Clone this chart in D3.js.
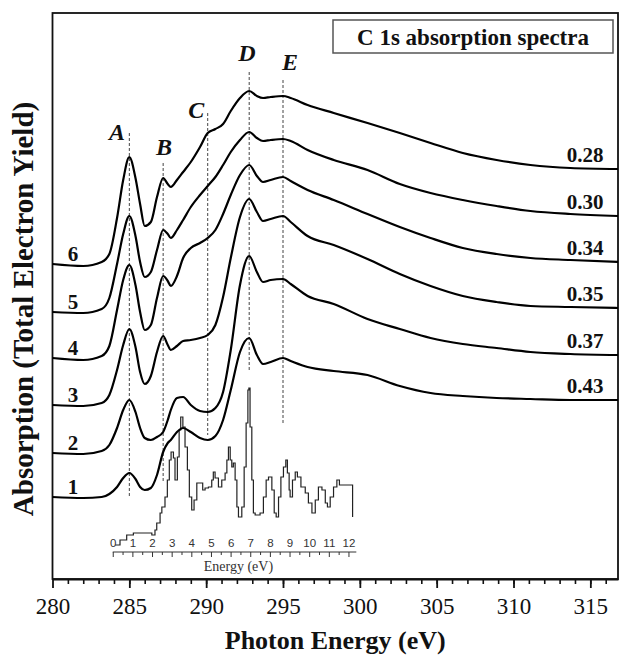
<!DOCTYPE html>
<html>
<head>
<meta charset="utf-8">
<script src="https://cdn.jsdelivr.net/npm/d3@7"></script>
<style>
    body { margin: 0; background: #ffffff; }
</style>
</head>
<body>
<div id="c1"></div>
<script>
// energy grid (eV) shared by the six spectra
const energy = [280, 282, 283.2, 283.7, 284.2, 284.6, 285.0, 285.4, 285.7, 286.0,
    286.4, 286.8, 287.2, 287.5, 287.7, 288.1, 288.5, 289.0, 289.6, 290.1,
    290.6, 291.1, 291.6, 292.2, 292.8, 293.3, 293.7, 294.2, 295.0, 295.5,
    296.6, 298.3, 300.5, 302.6, 304.6, 306.7, 308.9, 311.1, 313.7, 316.8];

// absorption (a.u., already offset), bottom curve first
const spec1 = [0.82, 0.81, 0.82, 0.85, 0.92, 1.01, 1.06, 1.00, 0.92, 0.89, 0.91, 1.04, 1.27, 1.36, 1.39, 1.47, 1.51, 1.47, 1.41, 1.39,
    1.43, 1.59, 1.89, 2.27, 2.41, 2.24, 2.15, 2.17, 2.21, 2.18, 2.12, 2.08, 2.04, 1.93, 1.86, 1.83, 1.81, 1.80, 1.79, 1.79];
const spec2 = [1.26, 1.25, 1.28, 1.34, 1.51, 1.69, 1.79, 1.67, 1.51, 1.41, 1.39, 1.42, 1.47, 1.59, 1.69, 1.81, 1.82, 1.74, 1.68, 1.67,
    1.71, 1.87, 2.29, 2.94, 3.23, 3.07, 2.97, 2.99, 3.00, 2.95, 2.83, 2.75, 2.60, 2.50, 2.41, 2.35, 2.31, 2.27, 2.25, 2.24];
const spec3 = [1.74, 1.73, 1.76, 1.84, 2.09, 2.34, 2.50, 2.32, 2.07, 1.95, 2.03, 2.27, 2.43, 2.34, 2.29, 2.33, 2.38, 2.39, 2.41, 2.44,
    2.54, 2.82, 3.21, 3.62, 3.80, 3.67, 3.58, 3.60, 3.63, 3.57, 3.43, 3.34, 3.20, 3.05, 2.93, 2.83, 2.77, 2.73, 2.72, 2.71];
const spec4 = [2.21, 2.19, 2.23, 2.33, 2.69, 2.99, 3.14, 2.94, 2.67, 2.49, 2.54, 2.81, 3.03, 2.98, 2.93, 3.03, 3.21, 3.31, 3.36, 3.41,
    3.49, 3.65, 3.84, 4.04, 4.14, 4.03, 3.97, 3.99, 4.02, 3.98, 3.89, 3.79, 3.65, 3.52, 3.41, 3.31, 3.25, 3.21, 3.19, 3.17];
const spec5 = [2.67, 2.66, 2.70, 2.81, 3.15, 3.45, 3.63, 3.43, 3.17, 3.02, 3.07, 3.29, 3.49, 3.45, 3.41, 3.49, 3.59, 3.72, 3.84, 3.93,
    4.02, 4.14, 4.27, 4.39, 4.47, 4.41, 4.38, 4.39, 4.40, 4.38, 4.29, 4.19, 4.09, 3.95, 3.86, 3.79, 3.73, 3.68, 3.65, 3.63];
const spec6 = [3.15, 3.13, 3.17, 3.25, 3.61, 3.99, 4.22, 4.01, 3.75, 3.53, 3.57, 3.82, 4.01, 3.95, 3.92, 3.99, 4.07, 4.17, 4.32, 4.46,
    4.50, 4.55, 4.68, 4.81, 4.88, 4.83, 4.81, 4.82, 4.83, 4.81, 4.74, 4.66, 4.56, 4.46, 4.36, 4.26, 4.19, 4.14, 4.11, 4.10];

const spectra = [spec1, spec2, spec3, spec4, spec5, spec6];
const sampleNames = ["1", "2", "3", "4", "5", "6"];
const sampleValues = ["0.43", "0.37", "0.35", "0.34", "0.30", "0.28"];

// resonance markers
const peakNames = ["A", "B", "C", "D", "E"];
const peakEnergy = [285.0, 287.2, 290.1, 292.8, 295.0];
const peakTop = [4.46, 4.16, 4.66, 5.07, 4.99];
const peakBottom = [0.82, 0.96, 1.44, 2.09, 1.54];
const peakLabelE = [284.2, 287.25, 289.35, 292.65, 295.45];
const peakLabelY = [4.39, 4.24, 4.61, 5.18, 5.09];

// calculated DOS for the inset (energy in eV, arbitrary units)
const dosEnergy = [0.12, 0.37, 0.71, 1.05, 1.56, 1.99, 2.15, 2.24, 2.41, 2.50, 2.66, 2.78, 2.88, 2.97, 3.09, 3.17, 3.29, 3.38, 3.46, 3.57,
    3.68, 3.80, 3.90, 4.02, 4.14, 4.28, 4.45, 4.58, 4.70, 4.87, 5.04, 5.12, 5.21, 5.38, 5.55, 5.72, 5.81, 5.89, 5.98, 6.06,
    6.14, 6.23, 6.32, 6.40, 6.57, 6.69, 6.79, 6.88, 6.93, 6.99, 7.08, 7.16, 7.25, 7.50, 7.67, 7.81, 7.93, 8.10, 8.22, 8.32,
    8.44, 8.56, 8.69, 8.81, 8.89, 8.98, 9.03, 9.15, 9.29, 9.40, 9.58, 9.80, 9.96, 10.14, 10.31, 10.47, 10.65, 10.82, 10.93, 11.07,
    11.24, 11.41, 11.54, 11.75, 12.09, 12.21];
const dosValue = [0.7, 1.2, 1.7, 1.9, 1.9, 1.7, 2.2, 2.9, 3.9, 4.5, 5.5, 7.2, 9.2, 10.0, 9.4, 7.2, 9.5, 12.2, 13.5, 12.5,
    10.5, 8.2, 5.5, 4.2, 5.2, 6.9, 6.9, 6.2, 6.4, 6.5, 7.2, 8.0, 7.4, 6.5, 7.2, 7.9, 9.2, 10.5, 9.2, 8.5,
    8.9, 7.2, 4.5, 3.5, 4.5, 8.5, 12.9, 16.2, 16.4, 12.5, 7.2, 3.9, 3.7, 3.9, 5.5, 7.2, 7.5, 6.2, 3.9, 3.5,
    5.5, 7.5, 8.5, 9.2, 7.9, 6.2, 5.5, 7.2, 8.0, 7.5, 6.5, 5.9, 4.9, 3.9, 5.2, 6.5, 6.2, 4.9, 4.5, 5.5,
    6.5, 7.2, 6.7, 6.7, 6.7, 3.5];

const xMajorTicks = [280, 285, 290, 295, 300, 305, 310, 315];
const insetTicks = [0, 1, 2, 3, 4, 5, 6, 7, 8, 9, 10, 11, 12];

function c1() {
    const margin = {l: 52.5, r: 1, t: 13, b: 81};
    const overall_width = 619;
    const overall_height = 660;
    const width = overall_width - margin.l - margin.r;
    const height = overall_height - margin.t - margin.b;
    const serif = "'Liberation Serif', 'Times New Roman', serif";

    let outerSvg = d3.select("#c1")
        .append("svg")
        .attr("width", overall_width)
        .attr("height", overall_height);
    outerSvg.append("rect")
        .attr("width", "100%")
        .attr("height", "100%")
        .attr("fill", "#ffffff");
    let svg = outerSvg.append("g")
        .attr("transform", `translate(${margin.l}, ${margin.t})`);

    let x = d3.scaleLinear().domain([280, 316.8]).range([0, width]);
    let y = d3.scaleLinear().domain([0, 5.66]).range([height, 0]);

    //frame
    svg.append("rect")
        .attr("width", width)
        .attr("height", height)
        .attr("fill", "none")
        .attr("stroke", "#111")
        .attr("stroke-width", 1.8);

    //minor and major ticks
    svg.append("g")
        .attr("transform", `translate(0,${height})`)
        .call(d3.axisBottom(x).tickValues(d3.range(281, 317, 1)).tickSize(5).tickFormat(""))
        .call(g => g.select(".domain").remove())
        .selectAll("line").attr("stroke", "#111").attr("stroke-width", 1.6);
    let xAxis = svg.append("g")
        .attr("transform", `translate(0,${height})`)
        .call(d3.axisBottom(x).tickValues(xMajorTicks).tickSize(9).tickSizeOuter(0).tickPadding(10));
    xAxis.select(".domain").attr("stroke", "#111").attr("stroke-width", 2);
    xAxis.selectAll("line").attr("stroke", "#111").attr("stroke-width", 1.8);
    xAxis.selectAll("text")
        .attr("font-family", serif)
        .attr("font-size", 23)
        .attr("fill", "#111");

    outerSvg.append("text")
        .attr("x", margin.l + width / 2)
        .attr("y", 649)
        .attr("text-anchor", "middle")
        .attr("font-family", serif)
        .attr("font-weight", "bold")
        .attr("font-size", 26)
        .attr("fill", "#111")
        .text("Photon Energy (eV)");

    outerSvg.append("text")
        .attr("transform", "translate(33, 309) rotate(-90)")
        .attr("text-anchor", "middle")
        .attr("font-family", serif)
        .attr("font-weight", "bold")
        .attr("font-size", 29)
        .attr("fill", "#111")
        .text("Absorption (Total Electron Yield)");

    //title box
    let box = svg.append("g").attr("transform", `translate(${width - 285}, 7)`);
    box.append("rect")
        .attr("width", 280)
        .attr("height", 33)
        .attr("fill", "#fff")
        .attr("stroke", "#555")
        .attr("stroke-width", 1.5);
    box.append("text")
        .attr("x", 140)
        .attr("y", 25)
        .attr("text-anchor", "middle")
        .attr("font-family", serif)
        .attr("font-weight", "bold")
        .attr("font-size", 23)
        .attr("fill", "#111")
        .text("C 1s absorption spectra");

    //dashed markers
    svg.selectAll(".peak")
        .data(peakNames)
        .enter()
        .append("line")
        .attr("class", "peak")
        .attr("x1", (d, i) => x(peakEnergy[i]))
        .attr("x2", (d, i) => x(peakEnergy[i]))
        .attr("y1", (d, i) => y(peakTop[i]))
        .attr("y2", (d, i) => y(peakBottom[i]))
        .attr("stroke", "#444")
        .attr("stroke-width", 1)
        .attr("stroke-dasharray", "3,2");
    svg.selectAll(".peak-label")
        .data(peakNames)
        .enter()
        .append("text")
        .attr("class", "peak-label")
        .attr("x", (d, i) => x(peakLabelE[i]))
        .attr("y", (d, i) => y(peakLabelY[i]))
        .attr("text-anchor", "middle")
        .attr("font-family", serif)
        .attr("font-weight", "bold")
        .attr("font-style", "italic")
        .attr("font-size", 24)
        .attr("fill", "#111")
        .text(d => d);

    //inset DOS
    let xi = d3.scaleLinear().domain([0, 12]).range([x(283.92), x(299.26)]);
    let yi = d3.scaleLinear().domain([0, 17]).range([y(0.27), y(1.97)]);
    let inset = svg.append("g").attr("class", "inset");
    inset.append("path")
        .datum(dosEnergy)
        .attr("fill", "none")
        .attr("stroke", "#222")
        .attr("stroke-width", 1.2)
        .attr("d", d3.line()
            .x(d => xi(d))
            .y((d, i) => yi(dosValue[i]))
            .curve(d3.curveStepAfter));
    let insetAxis = inset.append("g")
        .attr("transform", `translate(0,${yi(0)})`);
    insetAxis.call(d3.axisBottom(xi).tickValues(d3.range(0.5, 12.5, 1)).tickSize(3).tickFormat("").tickSizeOuter(0));
    insetAxis.append("g")
        .call(d3.axisBottom(xi).tickValues(insetTicks).tickSize(5).tickSizeOuter(0))
        .call(g => g.select(".domain").remove())
        .selectAll("text")
        .attr("y", -5)
        .attr("dy", 0)
        .attr("font-family", "'Liberation Sans', Arial, sans-serif")
        .attr("font-size", 11.5)
        .attr("fill", "#333");
    insetAxis.select(".domain").attr("stroke", "#333").attr("d", `M${xi(0)},0H${xi(12.4)}`);
    insetAxis.selectAll("line").attr("stroke", "#333");
    inset.append("text")
        .attr("x", xi(6.4))
        .attr("y", yi(0) + 19)
        .attr("text-anchor", "middle")
        .attr("font-family", serif)
        .attr("font-size", 14)
        .attr("fill", "#333")
        .text("Energy (eV)");

    //spectra
    let line = d3.line()
        .x((d, i) => x(energy[i]))
        .y(d => y(d))
        .curve(d3.curveMonotoneX);
    svg.selectAll(".spectrum")
        .data(spectra)
        .enter()
        .append("path")
        .attr("class", "spectrum")
        .attr("fill", "none")
        .attr("stroke", "#000")
        .attr("stroke-width", 2.2)
        .attr("stroke-linejoin", "round")
        .attr("d", line);

    svg.selectAll(".sample-label")
        .data(spectra)
        .enter()
        .append("text")
        .attr("class", "sample-label")
        .attr("x", x(281.33))
        .attr("y", d => y(d[0]) - 3)
        .attr("text-anchor", "middle")
        .attr("font-family", serif)
        .attr("font-weight", "bold")
        .attr("font-size", 21)
        .attr("fill", "#111")
        .text((d, i) => sampleNames[i]);

    svg.selectAll(".value-label")
        .data(spectra)
        .enter()
        .append("text")
        .attr("class", "value-label")
        .attr("x", x(315.85))
        .attr("y", d => y(d[d.length - 1]) - 7)
        .attr("text-anchor", "end")
        .attr("font-family", serif)
        .attr("font-weight", "bold")
        .attr("font-size", 21)
        .attr("fill", "#111")
        .text((d, i) => sampleValues[i]);
}

c1();
</script>
</body>
</html>
